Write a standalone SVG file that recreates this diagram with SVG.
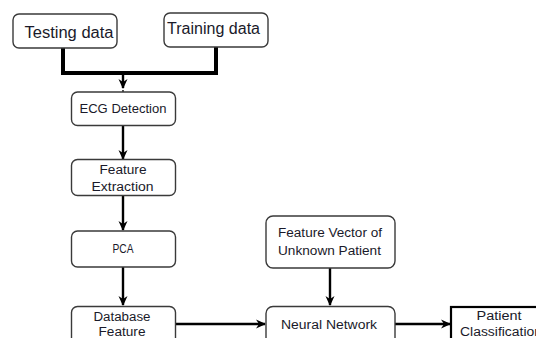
<svg xmlns="http://www.w3.org/2000/svg" width="536" height="338" viewBox="0 0 536 338">
<style>
.box{fill:#fff;stroke:#3a3a3a;stroke-width:1.4}
.sq{fill:#fff;stroke:#000;stroke-width:2.2}
.t{font-family:"Liberation Sans",Arial,sans-serif;fill:#1a1a2a;text-anchor:middle}
.big{font-size:16px}
.sm{font-size:12px}
.c{stroke:#000;fill:none;stroke-width:2.4}
.j{stroke:#000;fill:none;stroke-width:4}
</style>
<defs>
<marker id="ah" viewBox="0 0 10 10" refX="9" refY="5" markerWidth="10" markerHeight="10" markerUnits="userSpaceOnUse" orient="auto">
<path d="M0,0.5 L10,5 L0,9.5 L3,5 Z" fill="#000"/>
</marker>
</defs>
<g id="connectors">
<path class="j" d="M63,48 V73 H216 V47"/>
<line class="c" x1="123" y1="73" x2="123" y2="88" marker-end="url(#ah)"/>
<circle cx="123" cy="91" r="0.9" fill="#000"/>
<line class="c" x1="123" y1="126" x2="123" y2="159" marker-end="url(#ah)"/>
<line class="c" x1="123" y1="196" x2="123" y2="230" marker-end="url(#ah)"/>
<line class="c" x1="123" y1="267" x2="123" y2="305" marker-end="url(#ah)"/>
<line class="c" x1="330" y1="268" x2="330" y2="305" marker-end="url(#ah)"/>
<line class="c" x1="176" y1="324" x2="265" y2="324" marker-end="url(#ah)"/>
<line class="c" x1="395" y1="324" x2="450" y2="324" marker-end="url(#ah)"/>
</g>
<g id="testing">
<rect class="box" x="13" y="14" width="104" height="34" rx="6"/>
<text class="t big" x="69" y="37.5" textLength="89" lengthAdjust="spacingAndGlyphs">Testing data</text>
</g>
<g id="training">
<rect class="box" x="164" y="13" width="104" height="34" rx="6"/>
<text class="t big" x="213.5" y="34" textLength="93" lengthAdjust="spacingAndGlyphs">Training data</text>
</g>
<g id="ecg">
<rect class="box" x="71.5" y="92" width="104" height="33.5" rx="6"/>
<text class="t sm" x="123" y="112.5" textLength="87" lengthAdjust="spacingAndGlyphs">ECG Detection</text>
</g>
<g id="feature-extraction">
<rect class="box" x="71.5" y="159.5" width="104" height="36" rx="6"/>
<text class="t sm" x="123" y="173.5" textLength="47" lengthAdjust="spacingAndGlyphs">Feature</text>
<text class="t sm" x="122.5" y="191" textLength="62" lengthAdjust="spacingAndGlyphs">Extraction</text>
</g>
<g id="pca">
<rect class="box" x="71.5" y="231" width="104" height="36" rx="6"/>
<text class="t sm" x="123" y="253" textLength="21" lengthAdjust="spacingAndGlyphs">PCA</text>
</g>
<g id="database">
<rect class="box" x="71.5" y="306.5" width="104" height="50" rx="6"/>
<text class="t sm" x="122" y="320.5" textLength="57" lengthAdjust="spacingAndGlyphs">Database</text>
<text class="t sm" x="122" y="336" textLength="47" lengthAdjust="spacingAndGlyphs">Feature</text>
</g>
<g id="feature-vector">
<rect class="box" x="266" y="216" width="129" height="52" rx="7"/>
<text class="t sm" x="330" y="237" textLength="104" lengthAdjust="spacingAndGlyphs">Feature Vector of</text>
<text class="t sm" x="329.5" y="255" textLength="103" lengthAdjust="spacingAndGlyphs">Unknown Patient</text>
</g>
<g id="neural-network">
<rect class="box" x="266" y="306.5" width="129" height="50" rx="7"/>
<text class="t sm" x="329" y="328.5" textLength="96" lengthAdjust="spacingAndGlyphs">Neural Network</text>
</g>
<g id="patient-classification">
<rect class="sq" x="451" y="307" width="100" height="50"/>
<text class="t sm" x="499" y="320" textLength="45" lengthAdjust="spacingAndGlyphs">Patient</text>
<text class="t sm" x="501" y="335.5" textLength="82" lengthAdjust="spacingAndGlyphs">Classification</text>
</g>
</svg>
